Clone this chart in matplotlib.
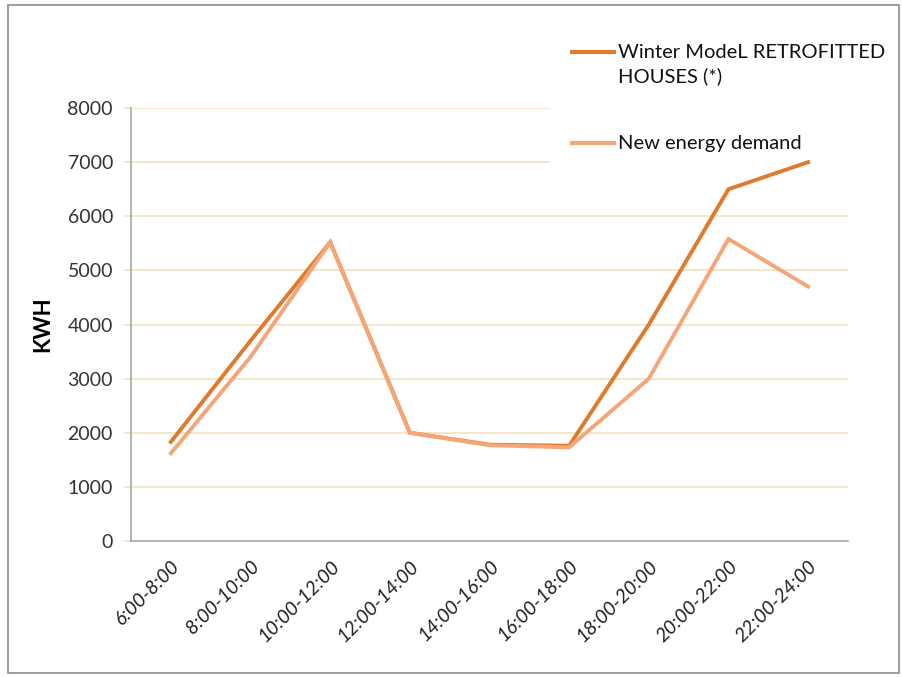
import matplotlib
matplotlib.use("Agg")
import matplotlib.pyplot as plt
from matplotlib.lines import Line2D
from matplotlib.patches import Rectangle

# time slots and consumption (kWh)
slots = ['6:00-8:00', '8:00-10:00', '10:00-12:00', '12:00-14:00', '14:00-16:00',
         '16:00-18:00', '18:00-20:00', '20:00-22:00', '22:00-24:00']
retrofitted = [1830, 3700, 5520, 2000, 1780, 1760, 4000, 6500, 7000]
new_demand = [1620, 3400, 5520, 2000, 1770, 1730, 3000, 5580, 4700]
y_ticks = [0, 1000, 2000, 3000, 4000, 5000, 6000, 7000, 8000]

dark = '#E07A2C'
light = '#F4A678'
grid_col = '#F2E2BE'

plt.rcParams['font.family'] = ['Lato', 'DejaVu Sans']

fig = plt.figure(figsize=(9.02, 6.77), dpi=100)
ax = fig.add_axes([131 / 902, 1 - 541 / 677, 717 / 902, 433 / 677])

x = range(len(slots))
ax.plot(x, retrofitted, color=dark, lw=2.8, solid_joinstyle='miter', zorder=3)
ax.plot(x, new_demand, color=light, lw=2.8, solid_joinstyle='miter', zorder=3)

ax.set_xlim(-0.5, len(slots) - 0.5)
ax.set_ylim(0, 8000)
ax.set_yticks(y_ticks)
ax.set_yticklabels([str(v) for v in y_ticks], fontsize=14, color='#333333')
ax.set_xticks(list(x))
ax.set_xticklabels(slots, rotation=45, ha='right', rotation_mode='anchor',
                   fontsize=14, style='italic', color='#222222')
ax.tick_params(axis='x', length=0, pad=12)
ax.tick_params(axis='y', length=5, color=grid_col, width=1.2, pad=8)

for v in y_ticks[1:]:
    ax.axhline(v, color=grid_col, lw=1.2, zorder=1)

for side in ['top', 'right']:
    ax.spines[side].set_visible(False)
for side in ['left', 'bottom']:
    ax.spines[side].set_color('#A8A8A8')
    ax.spines[side].set_linewidth(1.2)

ax.set_ylabel('KWH', fontsize=16, fontweight='bold', labelpad=10)

# legend block in the top-right corner: hides the grid, not the lines
def px(xp, yp):
    return xp / 902, 1 - yp / 677

ax.add_artist(Rectangle(px(550, 166), 345 / 902, 138 / 677,
                        transform=fig.transFigure, facecolor='white',
                        edgecolor='none', zorder=2, clip_on=False))
entries = [(dark, 52, 'Winter ModeL RETROFITTED\nHOUSES (*)'),
           (light, 143, 'New energy demand')]
for col, yp, label in entries:
    x0, y0 = px(572, yp)
    x1, _ = px(614, yp)
    fig.add_artist(Line2D([x0, x1], [y0, y0], color=col, lw=3,
                          transform=fig.transFigure, zorder=6))
    tx, ty = px(618, yp - 8)
    fig.text(tx, ty, label, fontsize=14.5, va='top', ha='left',
             linespacing=1.42, color='#111111', zorder=6)

# outer frame
fig.add_artist(Rectangle(px(8, 673), 891 / 902, 668 / 677,
                         transform=fig.transFigure, facecolor='none',
                         edgecolor='#8C8C8C', lw=1.2, zorder=0))

fig.savefig('out.png', dpi=100, facecolor='white')
